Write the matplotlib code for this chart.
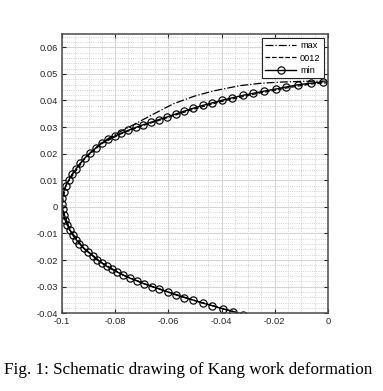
import matplotlib
matplotlib.use("Agg")
import matplotlib.pyplot as plt
from matplotlib.ticker import MultipleLocator, FixedLocator

# --- data ---
# "min" curve, one point per marker, from the lower end up through the vertex to the upper end
min_x = [-0.0320, -0.0356, -0.0394, -0.0434, -0.0471, -0.0506, -0.0540, -0.0572, -0.0602,
         -0.0634, -0.0662, -0.0691, -0.0719, -0.0745, -0.0769, -0.0793, -0.0812, -0.0831,
         -0.0850, -0.0869, -0.0885, -0.0902, -0.0919, -0.0935, -0.0947, -0.0960, -0.0970,
         -0.0980, -0.0988, -0.0994, -0.0998, -0.1000,
         -0.0999, -0.0994, -0.0986, -0.0975, -0.0962, -0.0947, -0.0931, -0.0913, -0.0893,
         -0.0872, -0.0850, -0.0826, -0.0802, -0.0778, -0.0750, -0.0722, -0.0694, -0.0666,
         -0.0636, -0.0605, -0.0573, -0.0540, -0.0506, -0.0469, -0.0435, -0.0398, -0.0360,
         -0.0321, -0.0281, -0.0241, -0.0197, -0.0156, -0.0113, -0.0065, -0.0019]
min_y = [-0.0405, -0.0394, -0.0384, -0.0372, -0.0362, -0.0351, -0.0341, -0.0331, -0.0320,
         -0.0309, -0.0300, -0.0289, -0.0278, -0.0268, -0.0257, -0.0245, -0.0235, -0.0224,
         -0.0211, -0.0199, -0.0184, -0.0170, -0.0155, -0.0138, -0.0123, -0.0106, -0.0088,
         -0.0069, -0.0051, -0.0030, -0.0010, 0.0009,
         0.0032, 0.0056, 0.0079, 0.0100, 0.0122, 0.0143, 0.0164, 0.0185, 0.0204,
         0.0222, 0.0240, 0.0254, 0.0266, 0.0277, 0.0288, 0.0299, 0.0309, 0.0318,
         0.0328, 0.0338, 0.0349, 0.0360, 0.0371, 0.0382, 0.0391, 0.0401, 0.0410,
         0.0419, 0.0427, 0.0435, 0.0443, 0.0451, 0.0459, 0.0465, 0.0470]

# "0012" curve (dashed), nearly on top of "min"
mid_x = [-0.0320, -0.0356, -0.0434, -0.0506, -0.0602, -0.0691, -0.0769, -0.0850, -0.0919,
         -0.0970, -0.0998, -0.1000, -0.0986, -0.0975, -0.0913, -0.0850, -0.0778, -0.0694,
         -0.0605, -0.0506, -0.0398, -0.0281, -0.0156, -0.0065, 0.0]
mid_y = [-0.0405, -0.0394, -0.0372, -0.0351, -0.0320, -0.0289, -0.0257, -0.0211, -0.0155,
         -0.0088, -0.0010, 0.0009, 0.0078, 0.0098, 0.0183, 0.0238, 0.0275, 0.0306,
         0.0335, 0.0367, 0.0397, 0.0423, 0.0447, 0.0462, 0.0467]

# "max" curve (dash-dot), splits from the others above y ~ 0.024
max_x = [-0.0320, -0.0356, -0.0434, -0.0506, -0.0602, -0.0691, -0.0769, -0.0850, -0.0919,
         -0.0970, -0.0998, -0.1000, -0.0999, -0.0986, -0.0962, -0.0931, -0.0893, -0.0850,
         -0.0790, -0.0725, -0.0650, -0.0580, -0.0500, -0.0430, -0.0330, -0.0250, -0.0180,
         -0.0100, 0.0]
max_y = [-0.0405, -0.0394, -0.0372, -0.0351, -0.0320, -0.0289, -0.0257, -0.0211, -0.0155,
         -0.0088, -0.0010, 0.0009, 0.0032, 0.0079, 0.0122, 0.0164, 0.0204, 0.0243,
         0.0278, 0.0312, 0.0352, 0.0388, 0.0417, 0.0436, 0.0456, 0.0465, 0.0469,
         0.0472, 0.0473]

x_ticks = [-0.1, -0.08, -0.06, -0.04, -0.02, 0]
x_tick_labels = ["-0.1", "-0.08", "-0.06", "-0.04", "-0.02", "0"]
y_ticks = [-0.04, -0.03, -0.02, -0.01, 0, 0.01, 0.02, 0.03, 0.04, 0.05, 0.06]
y_tick_labels = ["-0.04", "-0.03", "-0.02", "-0.01", "0", "0.01", "0.02", "0.03",
                 "0.04", "0.05", "0.06"]
caption = "Fig. 1: Schematic drawing of Kang work deformation"

# --- figure ---
fig = plt.figure(figsize=(3.83, 3.91), dpi=100)
ax = fig.add_axes([0.161, 0.199, 0.696, 0.714])

ax.plot(max_x, max_y, color="black", linestyle="-.", linewidth=0.9, label="max")
ax.plot(mid_x, mid_y, color="black", linestyle="--", linewidth=0.9, label="0012")
ax.plot(min_x, min_y, color="black", linestyle="-", linewidth=1.0, marker="o",
        markersize=5.2, markerfacecolor="none", markeredgewidth=0.85, label="min")

ax.set_xlim(-0.1, 0)
ax.set_ylim(-0.04, 0.065)
ax.set_aspect("equal", adjustable="box")

ax.xaxis.set_major_locator(FixedLocator(x_ticks))
ax.yaxis.set_major_locator(FixedLocator(y_ticks))
ax.set_xticklabels(x_tick_labels)
ax.set_yticklabels(y_tick_labels)
ax.xaxis.set_minor_locator(MultipleLocator(0.005))
ax.yaxis.set_minor_locator(MultipleLocator(0.002))

ax.grid(which="major", color="#d6d6d6", linestyle="-", linewidth=0.8)
ax.grid(which="minor", color="#c4c4c4", linestyle=":", linewidth=0.6)
ax.set_axisbelow(True)

ax.tick_params(which="major", direction="in", length=2.8, width=0.8, color="#262626",
               top=True, right=True, labelsize=6.7, labelcolor="#262626", pad=3)
ax.tick_params(which="minor", length=0, top=True, right=True)
for lbl in ax.get_xticklabels() + ax.get_yticklabels():
    lbl.set_family("Liberation Sans")
for s in ax.spines.values():
    s.set_color("#4a4a4a")
    s.set_linewidth(1.1)

leg = ax.legend(loc="upper right", prop={"family": "Liberation Sans", "size": 6.6},
                frameon=True, fancybox=False, edgecolor="#262626", framealpha=1,
                handlelength=3.4, handletextpad=0.4, borderpad=0.35, labelspacing=0.35,
                borderaxespad=0.45)
leg.get_frame().set_linewidth(0.8)

fig.text(0.491, 0.053, caption, ha="center", va="center", fontsize=12.3,
         family="Liberation Serif", color="black")

fig.savefig("out.png", dpi=100)
